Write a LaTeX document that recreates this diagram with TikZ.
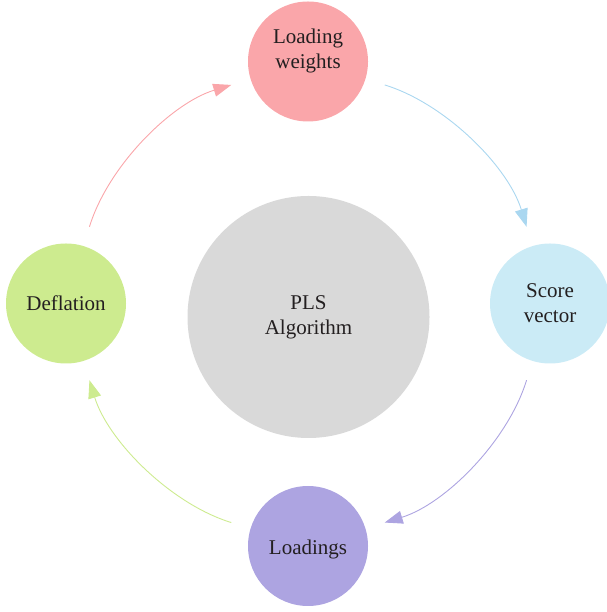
\documentclass[tikz,border=0pt]{standalone}
\usepackage{fontspec}
\setmainfont{Liberation Serif}
\usepackage{tikz}
\usetikzlibrary{shapes.geometric, arrows.meta}
\definecolor{pinkfill}{RGB}{250,166,170}
\definecolor{bluefill}{RGB}{203,235,246}
\definecolor{purplefill}{RGB}{173,164,225}
\definecolor{greenfill}{RGB}{205,235,143}
\definecolor{greyfill}{RGB}{217,217,217}
\definecolor{bluearrow}{RGB}{170,215,240}
\definecolor{textcol}{RGB}{35,31,32}
\tikzstyle{stage} = [circle, minimum size=120pt, inner sep=0pt, text centered, align=center, text=textcol, font=\fontsize{21}{25}\selectfont]
\tikzstyle{core} = [circle, minimum size=242pt, inner sep=0pt, text centered, align=center, text=textcol, fill=greyfill, font=\fontsize{21}{25}\selectfont]
\tikzstyle{arrow} = [line width=0.9pt, -{Triangle[length=18pt,width=13pt]}, shorten <=20pt, shorten >=20pt, looseness=0.9]

\begin{document}
\begin{tikzpicture}[node distance=242pt]
\useasboundingbox (0,0) rectangle (606pt,612pt);
\coordinate (mid) at (308pt,308.5pt);
\node (pls) [core] at (308.5pt,295pt) {PLS\\Algorithm};
\node (weights) [stage, fill=pinkfill, above of=mid, text depth=26pt] {Loading\\weights};
\node (score) [stage, fill=bluefill, right of=mid] {Score\\vector};
\node (loadings) [stage, fill=purplefill, below of=mid, yshift=-0.5pt, text height=21pt] {Loadings};
\node (deflation) [stage, fill=greenfill, left of=mid] {Deflation};
\draw [arrow, draw=bluearrow] (weights) to[out=-17, in=107] (score);
\draw [arrow, draw=purplefill] (score) to[out=-107, in=17] (loadings);
\draw [arrow, draw=greenfill] (loadings) to[out=163, in=-73] (deflation);
\draw [arrow, draw=pinkfill] (deflation) to[out=73, in=-163] (weights);
\end{tikzpicture}
\end{document}
